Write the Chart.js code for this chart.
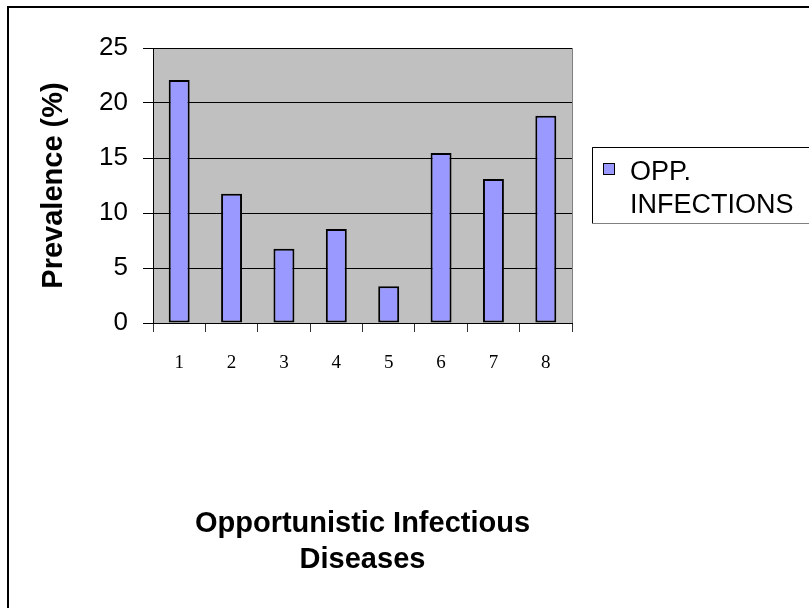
<!DOCTYPE html>
<html>
<head>
<meta charset="utf-8">
<script src="https://cdn.jsdelivr.net/npm/chart.js@4/dist/chart.umd.min.js"></script>
<style>
  html, body { margin: 0; padding: 0; background: #fff; }
  canvas { display: block; }
</style>
</head>
<body>
<canvas id="chart" width="809" height="608"></canvas>
<script>
// data
const categories = ["1", "2", "3", "4", "5", "6", "7", "8"];
const prevalence = [22.1, 11.75, 6.75, 8.55, 3.35, 15.45, 13.1, 18.85];
const seriesName = "OPP. INFECTIONS";
const yTicks = [0, 5, 10, 15, 20, 25];
const xTitle = ["Opportunistic Infectious", "Diseases"];
const yTitle = "Prevalence (%)";

// grey plot area, frame round the whole thing, and the boxed legend
const framePlugin = {
    id: "frame",
    beforeDraw(chart) {
        const ctx = chart.ctx;
        const a = chart.chartArea;
        ctx.save();
        ctx.fillStyle = "#fff";
        ctx.fillRect(0, 0, chart.width, chart.height);
        ctx.fillStyle = "#C0C0C0";
        ctx.fillRect(a.left, a.top, a.right - a.left, a.bottom - a.top);
        ctx.restore();
    },
    afterDraw(chart) {
        const ctx = chart.ctx;
        const a = chart.chartArea;
        ctx.save();
        // right edge of plot area
        ctx.strokeStyle = "#808080";
        ctx.lineWidth = 1;
        ctx.beginPath();
        ctx.moveTo(a.right + 0.5, a.top);
        ctx.lineTo(a.right + 0.5, a.bottom);
        ctx.stroke();

        // outer frame (cut off at right and bottom)
        ctx.fillStyle = "#000";
        ctx.fillRect(7, 6, chart.width - 7, 2);
        ctx.fillRect(7, 6, 2, chart.height - 6);

        // legend box
        const ds = chart.data.datasets[0];
        const bx = 592, by = 147, bh = 76;
        ctx.fillStyle = "#fff";
        ctx.fillRect(bx, by, chart.width - bx + 5, bh);
        ctx.strokeStyle = "#808080";
        ctx.lineWidth = 1;
        ctx.strokeRect(bx + 0.5, by + 0.5, chart.width - bx + 5, bh);
        ctx.strokeStyle = "#000";
        ctx.beginPath();
        ctx.moveTo(bx + 0.5, by + bh);
        ctx.lineTo(bx + 0.5, by + 0.5);
        ctx.lineTo(chart.width, by + 0.5);
        ctx.stroke();
        ctx.fillStyle = ds.backgroundColor;
        ctx.fillRect(603, 163, 11, 11);
        ctx.strokeStyle = "#000";
        ctx.strokeRect(603.5, 163.5, 11, 11);
        ctx.fillStyle = "#000";
        ctx.font = "27px 'Liberation Sans', Arial, sans-serif";
        ctx.textBaseline = "alphabetic";
        const words = ds.label.split(" ");
        ctx.fillText(words[0], 630, 180);
        ctx.fillText(words[1], 630, 213);
        ctx.restore();
    }
};

new Chart(document.getElementById("chart"), {
    type: "bar",
    data: {
        labels: categories,
        datasets: [{
            label: seriesName,
            data: prevalence,
            backgroundColor: "#9999FF",
            borderColor: "#000",
            borderWidth: 2,
            borderSkipped: false,
            barPercentage: 0.4,
            categoryPercentage: 1.0
        }]
    },
    options: {
        responsive: false,
        animation: false,
        devicePixelRatio: 1,
        layout: { padding: { left: 0, top: 48, right: 237, bottom: 0 } },
        plugins: {
            legend: { display: false },
            tooltip: { enabled: false }
        },
        scales: {
            x: {
                afterFit(scale) { scale.height = 285; },
                grid: {
                    offset: true,
                    drawOnChartArea: false,
                    tickLength: 9,
                    color: "#333"
                },
                border: { display: true, color: "#000", width: 1 },
                ticks: {
                    color: "#000",
                    padding: 20,
                    font: { family: "'Liberation Serif', 'Times New Roman', serif", size: 19 }
                },
                title: {
                    display: true,
                    text: xTitle,
                    color: "#000",
                    padding: { top: 0, bottom: 30 },
                    font: { family: "'Liberation Sans', Arial, sans-serif", size: 29, weight: "bold", lineHeight: 1.24 }
                }
            },
            y: {
                min: 0,
                max: 25,
                afterFit(scale) { scale.width = 153; },
                afterBuildTicks(scale) { scale.ticks = yTicks.map(v => ({ value: v })); },
                grid: {
                    color: "#000",
                    tickLength: 10
                },
                border: { display: true, color: "#000", width: 1 },
                ticks: {
                    color: "#000",
                    padding: 15,
                    font: { family: "'Liberation Sans', Arial, sans-serif", size: 26 }
                },
                title: {
                    display: true,
                    text: yTitle,
                    color: "#000",
                    padding: { top: 37, bottom: 0 },
                    font: { family: "'Liberation Sans', Arial, sans-serif", size: 29, weight: "bold" }
                }
            }
        }
    },
    plugins: [framePlugin]
});
</script>
</body>
</html>
